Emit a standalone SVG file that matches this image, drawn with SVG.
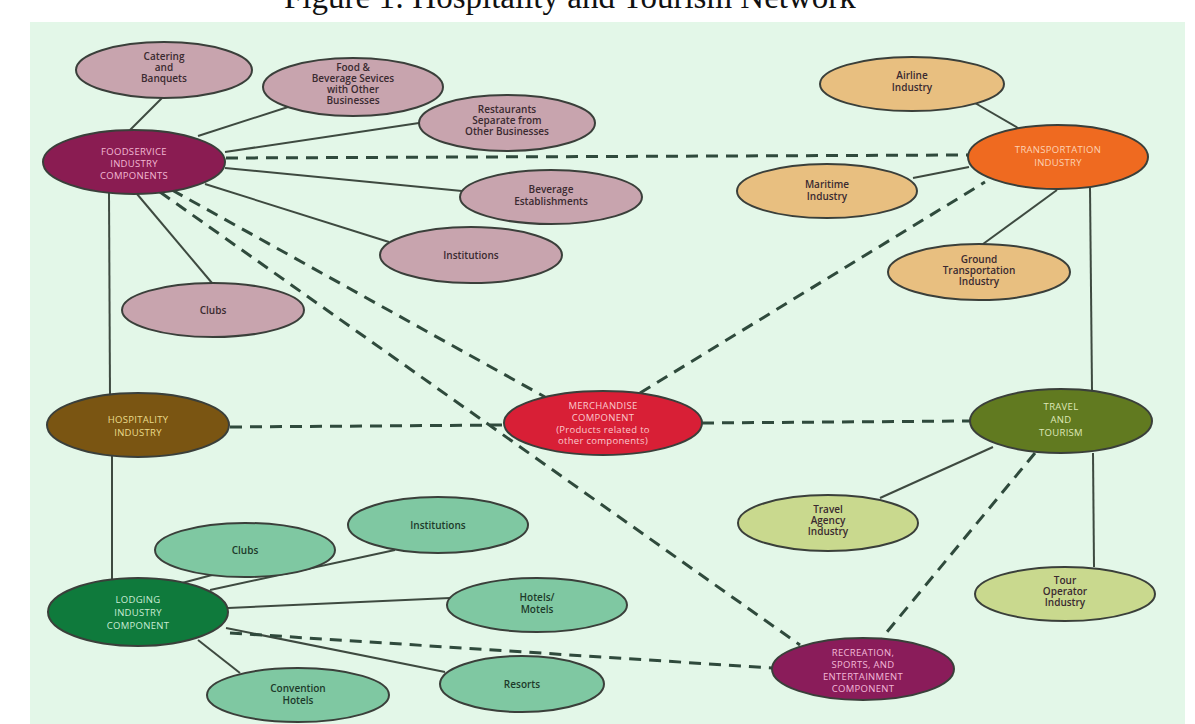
<svg xmlns="http://www.w3.org/2000/svg" width="1195" height="724" viewBox="0 0 1195 724">
<style>
.bg{fill:#e3f7e8}
.title{font-family:"Liberation Serif","Times New Roman",serif;font-size:33px;fill:#111}
.n ellipse{stroke:#3a3f3a;stroke-width:2}
.n text{font-family:"Open Sans","Liberation Sans",sans-serif;font-size:10px;font-weight:600;text-anchor:middle}
.pink ellipse{fill:#c8a4ae}
.pink text,.tan text,.lime text{fill:#3a2a30}
.tan ellipse{fill:#e8bf80}
.lime ellipse{fill:#c9d98e}
.mint ellipse{fill:#7fc8a2}
.mint text{fill:#1d3a2a}
.sol{stroke:#3e4a40;stroke-width:2;fill:none}
.dash{stroke:#2f4a3c;stroke-width:3;stroke-dasharray:12 8;fill:none}
.cap text{font-size:9.5px;font-weight:400;letter-spacing:0.3px}
</style>
<rect x="0" y="0" width="1195" height="724" fill="#ffffff"/>
<rect class="bg" x="30" y="22" width="1155" height="702"/>
<text class="title" x="284" y="8">Figure 1: Hospitality and Tourism Network</text>
<g id="connectors">
<line class="sol" x1="162" y1="98" x2="130" y2="130"/>
<line class="sol" x1="198" y1="136" x2="288" y2="107"/>
<line class="sol" x1="225" y1="152" x2="419" y2="123"/>
<line class="sol" x1="225" y1="168" x2="462" y2="191"/>
<line class="sol" x1="205" y1="184" x2="389" y2="242"/>
<line class="sol" x1="137" y1="194" x2="212" y2="283"/>
<line class="sol" x1="109" y1="193" x2="110" y2="394"/>
<line class="sol" x1="112" y1="456" x2="112" y2="580"/>
<line class="sol" x1="975" y1="103" x2="1018" y2="128"/>
<line class="sol" x1="913" y1="178" x2="969" y2="167"/>
<line class="sol" x1="1057" y1="190" x2="983" y2="244"/>
<line class="sol" x1="1090" y1="188" x2="1092" y2="390"/>
<line class="sol" x1="993" y1="447" x2="880" y2="498"/>
<line class="sol" x1="1093" y1="453" x2="1094" y2="567"/>
<line class="sol" x1="182" y1="583" x2="212" y2="575"/>
<line class="sol" x1="210" y1="590" x2="395" y2="550"/>
<line class="sol" x1="228" y1="608" x2="450" y2="598"/>
<line class="sol" x1="226" y1="628" x2="445" y2="672"/>
<line class="sol" x1="198" y1="640" x2="240" y2="673"/>
<line class="dash" x1="226" y1="158" x2="968" y2="155"/>
<line class="dash" x1="172" y1="190" x2="545" y2="397"/>
<line class="dash" x1="160" y1="192" x2="800" y2="645"/>
<line class="dash" x1="230" y1="427" x2="505" y2="425"/>
<line class="dash" x1="640" y1="393" x2="985" y2="182"/>
<line class="dash" x1="702" y1="423" x2="970" y2="421"/>
<line class="dash" x1="1035" y1="453" x2="882" y2="638"/>
<line class="dash" x1="230" y1="633" x2="772" y2="668"/>
</g>
<g id="catering" class="n pink"><ellipse cx="164" cy="70" rx="88" ry="28"/><text x="164" y="60">Catering</text><text x="164" y="71">and</text><text x="164" y="82">Banquets</text></g>
<g id="food-beverage" class="n pink"><ellipse cx="353" cy="87" rx="90" ry="29"/><text x="353" y="71">Food &amp;</text><text x="353" y="82">Beverage Sevices</text><text x="353" y="93">with Other</text><text x="353" y="104">Businesses</text></g>
<g id="restaurants" class="n pink"><ellipse cx="507" cy="123" rx="88" ry="28"/><text x="507" y="113">Restaurants</text><text x="507" y="124">Separate from</text><text x="507" y="135">Other Businesses</text></g>
<g id="foodservice" class="n cap"><ellipse cx="134" cy="162" rx="91" ry="32" fill="#8a1c52"/><text x="134" y="155" fill="#f2b8d2">FOODSERVICE</text><text x="134" y="167" fill="#f2b8d2">INDUSTRY</text><text x="134" y="179" fill="#f2b8d2">COMPONENTS</text></g>
<g id="beverage" class="n pink"><ellipse cx="551" cy="197" rx="91" ry="27"/><text x="551" y="193">Beverage</text><text x="551" y="205">Establishments</text></g>
<g id="institutions-food" class="n pink"><ellipse cx="471" cy="255" rx="91" ry="28"/><text x="471" y="259">Institutions</text></g>
<g id="clubs-food" class="n pink"><ellipse cx="213" cy="310" rx="91" ry="27"/><text x="213" y="314">Clubs</text></g>
<g id="hospitality" class="n cap"><ellipse cx="138" cy="425" rx="91" ry="32" fill="#7a5512"/><text x="138" y="423" fill="#eadc8c">HOSPITALITY</text><text x="138" y="436" fill="#eadc8c">INDUSTRY</text></g>
<g id="airline" class="n tan"><ellipse cx="912" cy="84" rx="92" ry="27"/><text x="912" y="79">Airline</text><text x="912" y="91">Industry</text></g>
<g id="transportation" class="n cap"><ellipse cx="1058" cy="157" rx="90" ry="32" fill="#ef6a20"/><text x="1058" y="153" fill="#fdd2b4">TRANSPORTATION</text><text x="1058" y="166" fill="#fdd2b4">INDUSTRY</text></g>
<g id="maritime" class="n tan"><ellipse cx="827" cy="191" rx="90" ry="27"/><text x="827" y="188">Maritime</text><text x="827" y="200">Industry</text></g>
<g id="ground" class="n tan"><ellipse cx="979" cy="272" rx="91" ry="28"/><text x="979" y="263">Ground</text><text x="979" y="274">Transportation</text><text x="979" y="285">Industry</text></g>
<g id="merchandise" class="n cap"><ellipse cx="603" cy="423" rx="99" ry="32" fill="#d81f36"/><text x="603" y="409" fill="#fbc8cc">MERCHANDISE</text><text x="603" y="421" fill="#fbc8cc">COMPONENT</text><text x="603" y="433" fill="#fbc8cc">(Products related to</text><text x="603" y="444" fill="#fbc8cc">other components)</text></g>
<g id="travel" class="n cap"><ellipse cx="1061" cy="421" rx="91" ry="32" fill="#617a20"/><text x="1061" y="410" fill="#dfe8b8">TRAVEL</text><text x="1061" y="423" fill="#dfe8b8">AND</text><text x="1061" y="436" fill="#dfe8b8">TOURISM</text></g>
<g id="travel-agency" class="n lime"><ellipse cx="828" cy="523" rx="90" ry="28"/><text x="828" y="513">Travel</text><text x="828" y="524">Agency</text><text x="828" y="535">Industry</text></g>
<g id="tour-operator" class="n lime"><ellipse cx="1065" cy="594" rx="90" ry="27"/><text x="1065" y="584">Tour</text><text x="1065" y="595">Operator</text><text x="1065" y="606">Industry</text></g>
<g id="clubs-lodging" class="n mint"><ellipse cx="245" cy="550" rx="90" ry="27"/><text x="245" y="554">Clubs</text></g>
<g id="institutions-lodging" class="n mint"><ellipse cx="438" cy="525" rx="90" ry="28"/><text x="438" y="529">Institutions</text></g>
<g id="hotels-motels" class="n mint"><ellipse cx="537" cy="605" rx="90" ry="27"/><text x="537" y="601">Hotels/</text><text x="537" y="613">Motels</text></g>
<g id="lodging" class="n cap"><ellipse cx="138" cy="612" rx="90" ry="34" fill="#0f7a3c"/><text x="138" y="603" fill="#c8ecd4">LODGING</text><text x="138" y="616" fill="#c8ecd4">INDUSTRY</text><text x="138" y="629" fill="#c8ecd4">COMPONENT</text></g>
<g id="convention" class="n mint"><ellipse cx="298" cy="695" rx="91" ry="27"/><text x="298" y="692">Convention</text><text x="298" y="704">Hotels</text></g>
<g id="resorts" class="n mint"><ellipse cx="522" cy="684" rx="82" ry="28"/><text x="522" y="688">Resorts</text></g>
<g id="recreation" class="n cap"><ellipse cx="863" cy="669" rx="91" ry="31" fill="#8a1c5a"/><text x="863" y="656" fill="#f2b8d8">RECREATION,</text><text x="863" y="668" fill="#f2b8d8">SPORTS, AND</text><text x="863" y="680" fill="#f2b8d8">ENTERTAINMENT</text><text x="863" y="692" fill="#f2b8d8">COMPONENT</text></g>
</svg>
